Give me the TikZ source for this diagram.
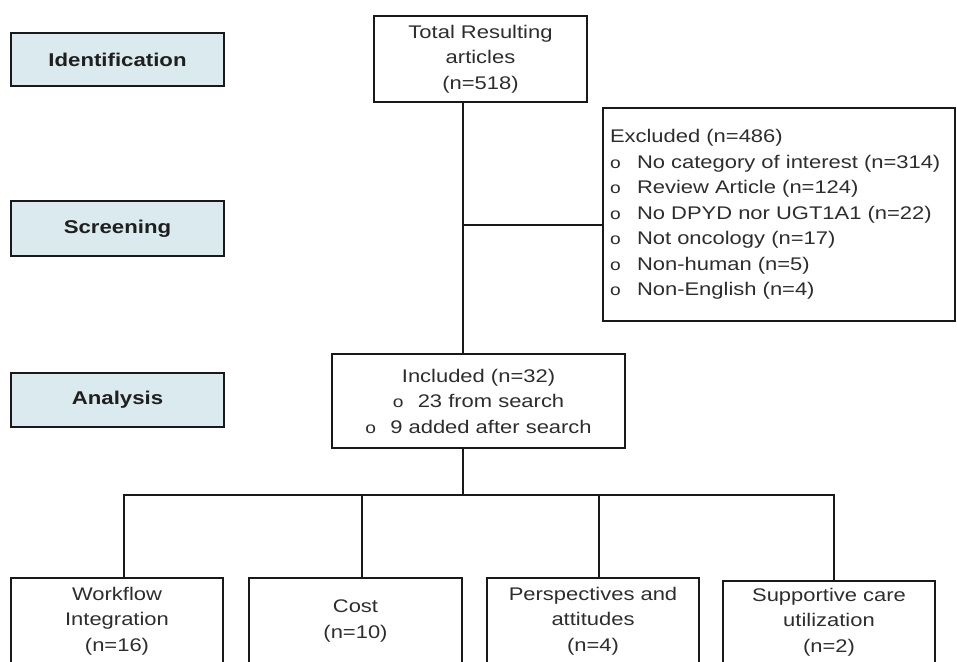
\documentclass[tikz,border=0pt]{standalone}
\usepackage{fontspec}
\setmainfont{Liberation Sans}[FakeStretch=1.2]
\definecolor{stagefill}{RGB}{218,234,238}
\definecolor{txt}{RGB}{45,45,45}
\definecolor{edge}{RGB}{25,25,25}
\newcommand{\bul}{{\fontsize{16}{16}\selectfont o}}
\begin{document}
\begin{tikzpicture}[x=1pt,y=-1pt,
  box/.style={draw=edge, line width=2.2pt, fill=white, text=txt, align=center, inner sep=0pt,
    font=\fontsize{18.3}{25.5}\selectfont},
  stage/.style={draw=edge, line width=2.4pt, fill=stagefill, text=black!88, inner sep=0pt,
    minimum width=213pt, font=\fontsize{18.5}{22}\selectfont\bfseries},
  conn/.style={draw=edge, line width=2.4pt, line join=miter}]
\useasboundingbox (0,0) rectangle (957,661);
\clip (0,0) rectangle (957,661);

% stage labels
\node[stage, minimum height=53pt] (ident) at (117.5,59.5) {Identification};
\node[stage, minimum height=55pt] (screen) at (117.5,228.5) {Screening};
\node[stage, minimum height=54pt] (anal) at (117.5,400) {Analysis};

% main flow
\node[box, minimum width=213pt, minimum height=86pt] (total) at (480.5,59) {Total Resulting\\articles\\(n=518)};
\node[box, minimum width=352pt, minimum height=213pt, align=left, text width=338pt, inner xsep=7pt] (excl) at (779,214.5)
  {Excluded (n=486)\\
   \makebox[27pt][l]{\bul}No category of interest (n=314)\\
   \makebox[27pt][l]{\bul}Review Article (n=124)\\
   \makebox[27pt][l]{\bul}No DPYD nor UGT1A1 (n=22)\\
   \makebox[27pt][l]{\bul}Not oncology (n=17)\\
   \makebox[27pt][l]{\bul}Non-human (n=5)\\
   \makebox[27pt][l]{\bul}Non-English (n=4)};
\node[box, minimum width=293pt, minimum height=94pt] (incl) at (478.5,401)
  {Included (n=32)\\
   \makebox[25pt][l]{\bul}23 from search\\
   \makebox[25pt][l]{\bul}9 added after search};

% categories
\node[box, minimum width=212pt, minimum height=86pt] (wf) at (117,621) {Workflow\\Integration\\(n=16)};
\node[box, minimum width=213pt, minimum height=86pt] (cost) at (355.5,621) {Cost\\(n=10)};
\node[box, minimum width=212pt, minimum height=86pt] (persp) at (593,621) {Perspectives and\\attitudes\\(n=4)};
\node[box, minimum width=212pt, minimum height=82pt] (supp) at (829,622) {Supportive care\\utilization\\(n=2)};

% connectors
\coordinate (trunk) at (463,0);
\coordinate (br) at (463,225);
\coordinate (hub) at (463,495);
\coordinate (d1) at (124,495);
\coordinate (d2) at (362,495);
\coordinate (d3) at (599,495);
\coordinate (d4) at (834,495);

\draw[conn] (total.south -| trunk) -- (incl.north -| trunk);
\draw[conn] (br) -- (br -| excl.west);
\draw[conn] (incl.south -| trunk) -- (hub);
\draw[conn] (d1 |- wf.north) -- (d1) -- (d4) -- (d4 |- supp.north);
\draw[conn] (d2) -- (d2 |- cost.north);
\draw[conn] (d3) -- (d3 |- persp.north);
\end{tikzpicture}
\end{document}
